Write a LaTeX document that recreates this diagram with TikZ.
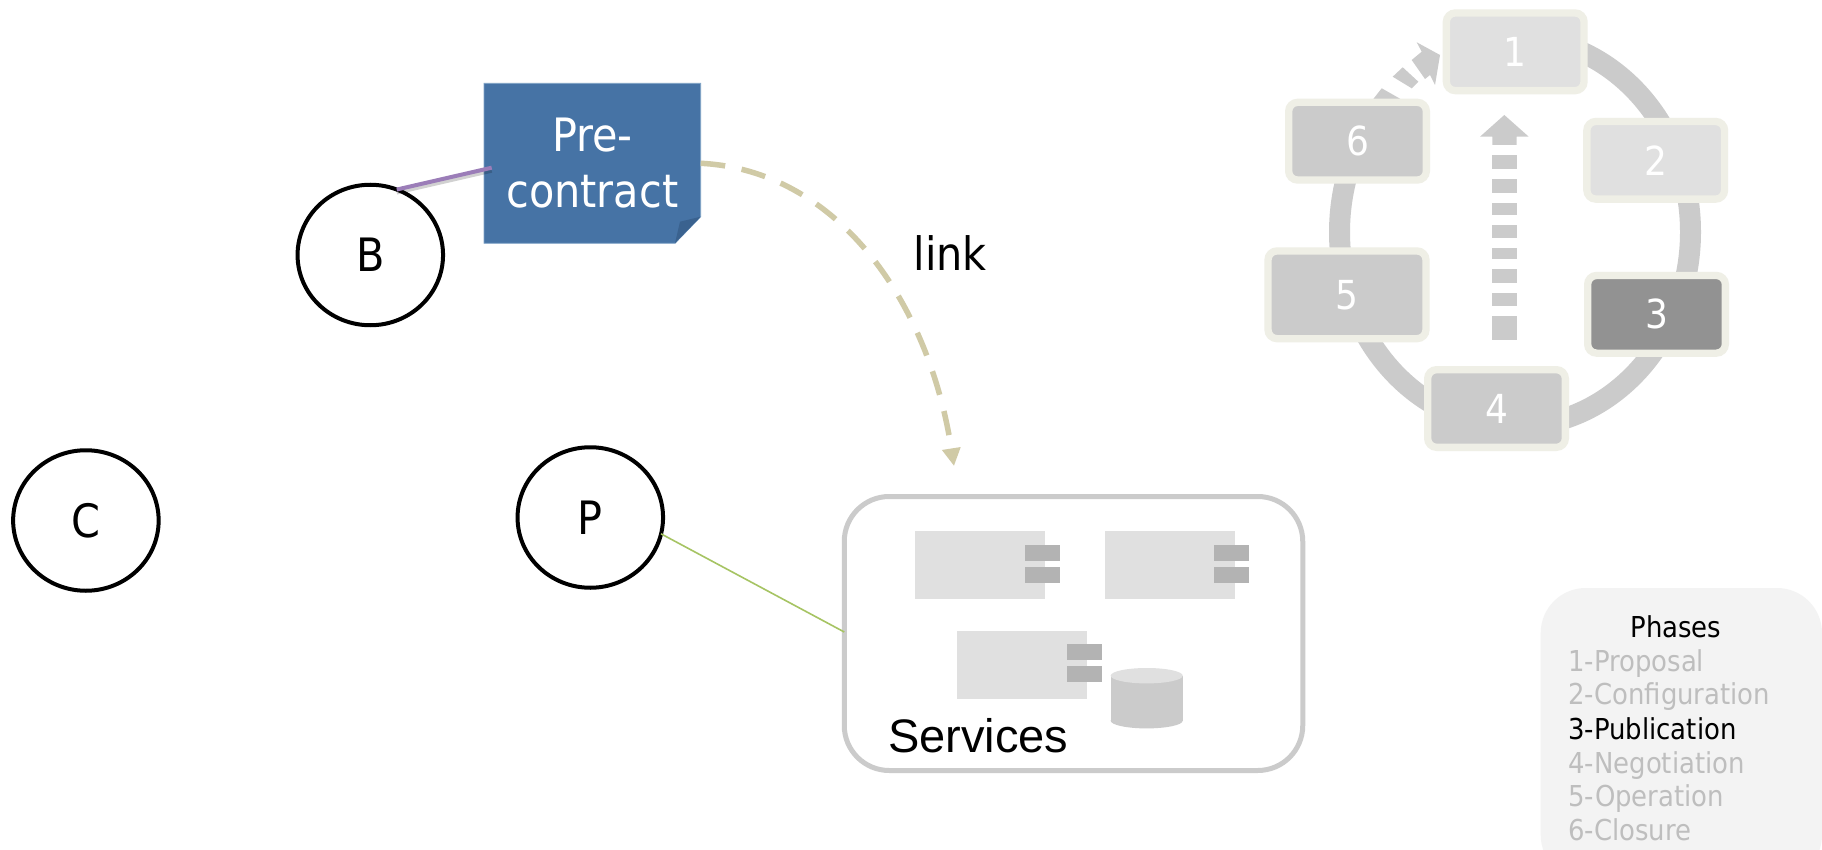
\documentclass[tikz,border=0pt]{standalone}
\usepackage{fontspec}
\setmainfont{DejaVu Sans Condensed}
\newfontfamily\arialfont{Liberation Sans}
\usetikzlibrary{shapes.geometric,shadows,arrows.meta}
\definecolor{ringgray}{HTML}{CBCBCB}
\definecolor{lightgray2}{HTML}{E0E0E0}
\definecolor{darkbox}{HTML}{929292}
\definecolor{rimcol}{HTML}{EFEFE6}
\definecolor{portgray}{HTML}{B3B3B3}
\definecolor{noteblue}{HTML}{4673A5}
\definecolor{notefold}{HTML}{3A628F}
\definecolor{noteedge}{HTML}{7FA3C7}
\definecolor{plum}{HTML}{9B7DB8}
\definecolor{khaki2}{HTML}{D0CAA6}
\definecolor{leaf}{HTML}{A6C463}
\definecolor{legendbg}{HTML}{F3F3F3}
\definecolor{legendtxt}{HTML}{BEBEBE}
\tikzset{
  phasebox/.style={draw=rimcol,line width=7.3pt,rounded corners=9pt,inner sep=0pt,outer sep=0pt,
    minimum width=137.7pt,minimum height=77.7pt,text=white,font=\fontsize{40}{40}\selectfont,
    drop shadow={shadow xshift=0pt,shadow yshift=-2.5pt,fill=black,opacity=.22}},
  actor/.style={ellipse,draw=black,line width=4pt,inner sep=0pt,outer sep=0pt,
    minimum width=145.5pt,minimum height=140.5pt,font=\fontsize{46}{46}\selectfont},
  comp/.style={fill=lightgray2,inner sep=0pt,outer sep=0pt,minimum width=130pt,minimum height=68pt},
  port/.style={fill=portgray,inner sep=0pt,outer sep=0pt,minimum width=35pt,minimum height=16pt},
  legendline/.style={anchor=base west,inner sep=0pt,text=legendtxt,font=\fontsize{28.8}{28.8}\selectfont},
  grayfill/.style={fill=ringgray,draw=none},
}
\begin{document}
\begin{tikzpicture}[x=1pt,y=-1pt]
\useasboundingbox (0,0) rectangle (1822,850);
\fill[white] (0,0) rectangle (1822,850);

% ring
\coordinate (rtop) at (1515,37.5);
\coordinate (rright) at (1690.5,232);
\coordinate (rbottom) at (1515,426.5);
\coordinate (rleft) at (1339.5,232);
\coordinate (rend) at (1360,140.7);
\draw[ringgray,line width=21pt]
  (rtop) .. controls (1611.9,37.5) and (1690.5,124.6) .. (rright)
  .. controls (1690.5,339.4) and (1611.9,426.5) .. (rbottom)
  .. controls (1418.1,426.5) and (1339.5,339.4) .. (rleft)
  .. controls (1339.5,200.2) and (1346.5,168.8) .. (rend);

% dashed arc arrow 6 -> 1
\fill[grayfill] (1373.3,99) -- (1381.7,88.3) -- (1399.3,98.3) -- (1403,101) -- (1373.3,101) -- cycle;
\fill[grayfill] (1392.7,76.7) -- (1402.7,67.3) -- (1418.3,81.7) -- (1411.7,88.3) -- cycle;
\fill[grayfill] (1411.7,60) -- (1421.7,51.7) -- (1416.7,42.3) -- (1440,55) -- (1435,85) -- (1430,75) -- (1425,79) -- cycle;

% straight dashed arrow 4 -> 1
\fill[grayfill] (1504.3,115) -- (1528.7,136.7) -- (1516.7,136.7) -- (1516.7,145) -- (1492.3,145) -- (1492.3,136.7) -- (1480,136.7) -- cycle;
\foreach \ya/\yb in {155/169,179/193,203/215,225/238,248/259,269/283,293/306,316/340}
  \fill[grayfill] (1492.3,\ya) rectangle (1516.7,\yb);

% phase boxes
\node[phasebox,fill=lightgray2] (b1) at (1515.2,51.8) {1};
\node[phasebox,fill=lightgray2] (b2) at (1655.7,160.3) {2};
\node[phasebox,fill=darkbox] (b3) at (1656.5,314.3) {3};
\node[phasebox,fill=ringgray] (b4) at (1496.5,408.5) {4};
\node[phasebox,fill=ringgray,minimum width=158pt,minimum height=87.7pt] (b5) at (1347,294.8) {5};
\node[phasebox,fill=ringgray] (b6) at (1357.5,141.2) {6};

% actors
\node[actor] (B) at (370.3,255) {B};
\node[actor] (C) at (85.9,520.5) {C};
\node[actor] (P) at (590.3,517.5) {P};

% note
\fill[noteblue,draw=noteedge,line width=.8pt] (484,83.3) -- (700.7,83.3) -- (700.7,216.7) -- (675,243.3) -- (484,243.3) -- cycle;
\fill[notefold] (675,243.3) -- (680,221.7) -- (700.7,216.7) -- cycle;
\node[inner sep=0pt,outer sep=0pt,minimum width=216.7pt,minimum height=160pt,text=white,align=center,
  font=\fontsize{46}{56}\selectfont] (pc) at (592.35,163.3) {Pre-\\contract};

% connectors
\coordinate (pcin) at (491.7,167.7);
\draw[black,opacity=.18,line width=4pt,transform canvas={yshift=-3pt}] (B.68) -- (pcin);
\draw[plum,line width=4pt] (B.68) -- (pcin);
\coordinate (lktip) at (954,466);
\draw[khaki2,line width=5.5pt,dash pattern=on 24.6pt off 16.8pt,
  -{Triangle[width=17.7pt,length=17.7pt]}]
  (pc.east) .. controls (835,170) and (928,298) .. (lktip);
\node[anchor=base west,inner sep=0pt,font=\fontsize{46}{46}\selectfont] (lk) at (913.3,270.7) {link};

% services
\node[draw=ringgray,line width=5pt,rounded corners=45pt,inner sep=0pt,outer sep=0pt,
  minimum width=458.5pt,minimum height=274pt] (svc) at (1073.5,633.5) {};
\draw[leaf,line width=1.6pt] (P.-13) -- (svc.west |- 0,632);
\node[comp] (c1) at (980,565) {};
\node[port] (c1a) at (1042.5,553) {};
\node[port] (c1b) at (1042.5,575) {};
\node[comp] (c2) at (1170,565) {};
\node[port] (c2a) at (1231.5,553) {};
\node[port] (c2b) at (1231.5,575) {};
\node[comp] (c3) at (1022,665) {};
\node[port] (c3a) at (1084.5,652) {};
\node[port] (c3b) at (1084.5,674) {};
\fill[ringgray] (1110.7,675.7) rectangle (1182.7,720.7);
\fill[ringgray] (1146.7,720.7) ellipse[x radius=36pt,y radius=7.7pt];
\fill[lightgray2] (1146.7,675.7) ellipse[x radius=36pt,y radius=7.7pt];
\node[anchor=base west,inner sep=0pt,font=\arialfont\fontsize{47}{47}\selectfont] (svct) at (888,752.7) {Services};

% legend
\begin{scope}
\clip (0,0) rectangle (1822,850);
\fill[legendbg,rounded corners=45pt] (1540.7,588) rectangle (1822,880);
\end{scope}
\node[anchor=base,inner sep=0pt,font=\fontsize{28.8}{28.8}\selectfont] (lg0) at (1676,637.7) {Phases};
\node[legendline] (lg1) at (1568.3,671.7) {1-Proposal};
\node[legendline] (lg2) at (1568.3,704.5) {2-Configuration};
\node[legendline,text=black] (lg3) at (1568.3,739) {3-Publication};
\node[legendline] (lg4) at (1568.3,773) {4-Negotiation};
\node[legendline] (lg5) at (1568.3,806) {5-Operation};
\node[legendline] (lg6) at (1568.3,840.7) {6-Closure};
\end{tikzpicture}
\end{document}
